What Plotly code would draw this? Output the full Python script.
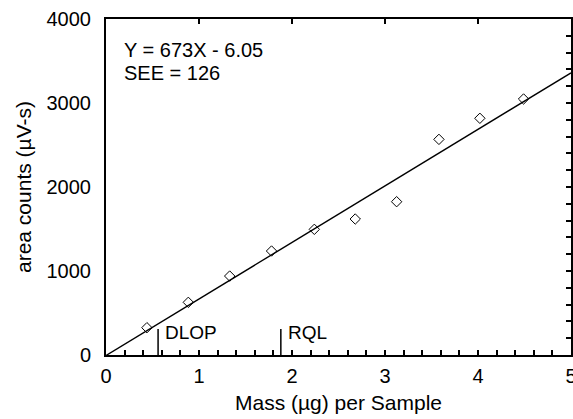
import plotly.graph_objects as go

# Data
mass = [0.44, 0.885, 1.33, 1.78, 2.24, 2.68, 3.125, 3.58, 4.02, 4.49]
area = [325, 627, 940, 1238, 1496, 1619, 1825, 2567, 2818, 3048]
slope = 673
intercept = -6.05
see = 126
fit_x = [0, 5]
markers_x = [0.56, 1.88]
markers_label = ["DLOP", "RQL"]
marker_height = 310
x_ticks = [0, 1, 2, 3, 4, 5]
y_ticks = [0, 1000, 2000, 3000, 4000]
top_ticks = [1, 2, 3, 4]
right_ticks = list(range(0, 4001, 200))

FONT = "Liberation Sans, Arial, sans-serif"

fig = go.Figure()

# fit line drawn on the overlay (top/right) axes, which share the same ranges
fig.add_trace(go.Scatter(
    x=fit_x, y=[slope * v + intercept for v in fit_x], mode="lines",
    xaxis="x2", yaxis="y2",
    line=dict(color="black", width=1.4), showlegend=False, hoverinfo="skip"))

fig.add_trace(go.Scatter(
    x=mass, y=area, mode="markers",
    marker=dict(symbol="diamond-open", size=8, color="black", line=dict(width=1, color="black")),
    showlegend=False))

for xv, lab in zip(markers_x, markers_label):
    fig.add_trace(go.Scatter(x=[xv, xv], y=[0, marker_height], mode="lines",
                             line=dict(color="black", width=1.5), showlegend=False, hoverinfo="skip"))
    fig.add_annotation(x=xv, y=marker_height * 0.88, text=lab, showarrow=False,
                       xanchor="left", yanchor="middle", xshift=5,
                       font=dict(family=FONT, size=19, color="black"))

eq_lines = [f"Y = {slope}X - {abs(intercept):.2f}", f"SEE = {see}"]
for i, line in enumerate(eq_lines):
    fig.add_annotation(x=0, y=1, xref="paper", yref="paper", xanchor="left", yanchor="top",
                       xshift=16, yshift=-18 - 23 * i, align="left", showarrow=False,
                       text=line, font=dict(family=FONT, size=20, color="black"))

fig.update_layout(
    width=573, height=419,
    margin=dict(l=106, r=2, t=19, b=64),
    paper_bgcolor="white", plot_bgcolor="white",
    font=dict(family=FONT, size=20, color="black"),
    xaxis=dict(range=[0, 5], tickvals=x_ticks, ticks="inside", ticklen=5, tickwidth=2,
               tickcolor="black", showline=True, linewidth=2, linecolor="black", mirror=True,
               showgrid=False, zeroline=False, automargin=False, ticklabeloverflow="allow",
               minor=dict(dtick=0.2, ticks="inside", ticklen=5, tickwidth=2,
                          tickcolor="black", showgrid=False),
               title=dict(text="Mass (µg) per Sample", standoff=9, font=dict(size=21)),
               tickfont=dict(size=20), ticklabelstandoff=2),
    yaxis=dict(range=[0, 4000], tickvals=y_ticks, ticks="", showline=True, linewidth=2,
               linecolor="black", mirror=True, showgrid=False, zeroline=False, automargin=False,
               title=dict(text="area counts (µV-s)", standoff=9, font=dict(size=21)),
               tickfont=dict(size=20), ticklabelstandoff=9),
    xaxis2=dict(range=[0, 5], overlaying="x", side="top", tickmode="array",
                tickvals=top_ticks, ticktext=[""] * len(top_ticks),
                ticks="inside", ticklen=5, tickwidth=2, tickcolor="black",
                showgrid=False, zeroline=False,
                showline=True, linewidth=2, linecolor="black", automargin=False),
    yaxis2=dict(range=[0, 4000], overlaying="y", side="right", tickmode="array",
                tickvals=right_ticks, ticktext=[""] * len(right_ticks),
                ticks="inside", ticklen=5, tickwidth=2, tickcolor="black",
                showgrid=False, zeroline=False,
                showline=True, linewidth=2, linecolor="black", automargin=False),
)

fig.write_html("out.html", config={"displayModeBar": False})

with open("out.html", encoding="utf-8") as f:
    html = f.read()
html = html.replace("<head>", "<head><style>html,body{margin:0;padding:0;overflow:hidden;}</style>", 1)
with open("out.html", "w", encoding="utf-8") as f:
    f.write(html)
